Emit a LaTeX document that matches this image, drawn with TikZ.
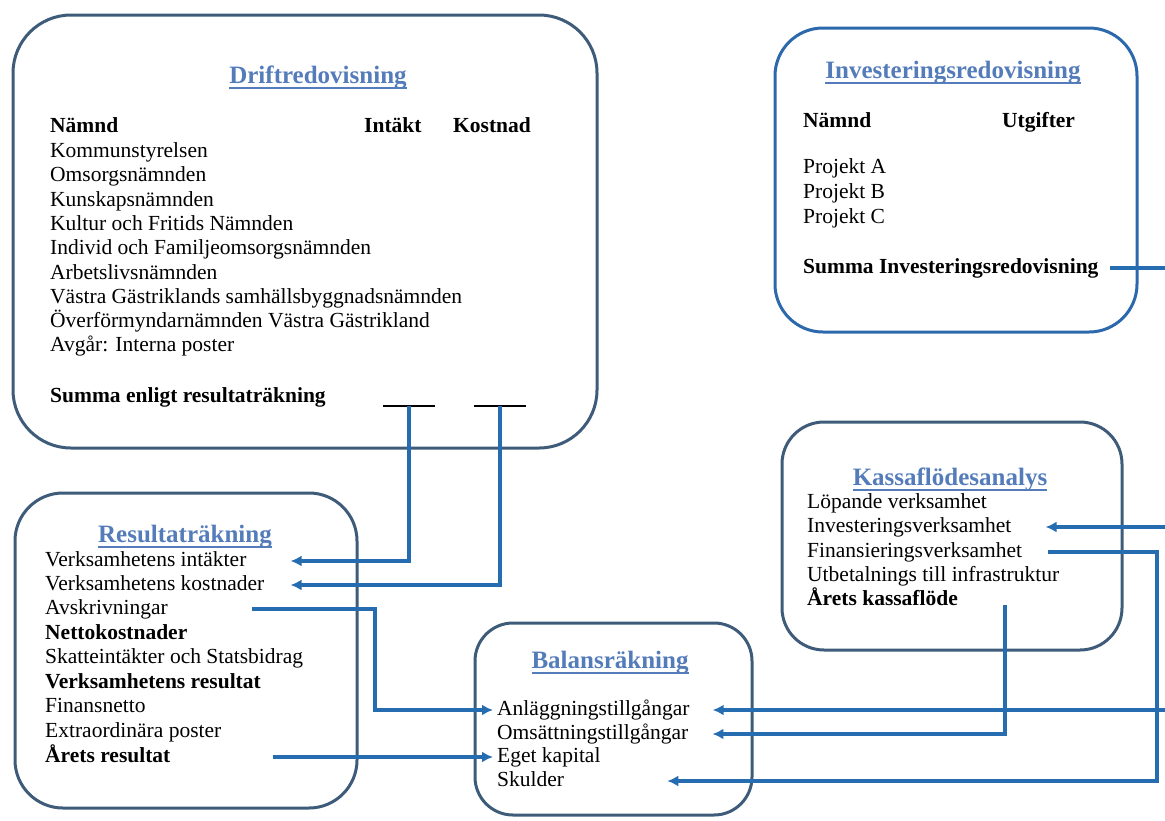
\documentclass[tikz,border=0pt]{standalone}
\usepackage{fontspec}
\setmainfont{Liberation Serif}
\usepackage{xcolor}
\usetikzlibrary{arrows.meta}
\definecolor{boxgray}{RGB}{62,92,122}
\definecolor{boxblue}{RGB}{44,104,172}
\definecolor{lineblue}{RGB}{38,108,176}
\definecolor{titleblue}{RGB}{84,124,186}
\newcommand{\ttlul}[1]{\setbox0\hbox{#1}\rlap{\rule[-5.5pt]{\wd0}{1.8pt}}\box0}

\begin{document}
\begin{tikzpicture}[x=1pt,y=-1pt,
  box/.style={draw=boxgray, line width=3pt},
  txt/.style={anchor=west, inner sep=0pt, text height=16pt, text depth=5pt, font=\fontsize{21.5}{24}\selectfont},
  hd/.style={txt, font=\fontsize{21.5}{24}\selectfont\bfseries},
  ttl/.style={anchor=base, inner sep=0pt, text=titleblue, font=\fontsize{25}{28}\selectfont\bfseries},
  flow/.style={draw=lineblue, line width=3.3pt, -{Latex[length=11pt,width=11pt]}},
  bar/.style={draw=black, line width=2.6pt}]
            \useasboundingbox (0,0) rectangle (1165,820);
            \clip (0,0) rectangle (1165,820);

            \draw[box, rounded corners=58pt] (13,15) rectangle (597,448);
            \draw[box, draw=boxblue, rounded corners=48pt] (775,28) rectangle (1137,332);
            \draw[box, rounded corners=42pt] (782,422) rectangle (1122,650);
            \draw[box, rounded corners=48pt] (15,493) rectangle (357,808);
            \draw[box, rounded corners=38pt] (475,623) rectangle (752,815);

            \draw (318,83) node[ttl]                  (dt) {\ttlul{Driftredovisning}};
            \draw (50,127) node[hd]                   (dnm) {Nämnd};
            \draw (364,127) node[hd]                  (din) {Intäkt};
            \draw (453,127) node[hd]                  (dko) {Kostnad};
            \draw (50,152) node[txt]                  (d1) {Kommunstyrelsen};
            \draw (50,176.3) node[txt]                (d2) {Omsorgsnämnden};
            \draw (50,200.6) node[txt]                (d3) {Kunskapsnämnden};
            \draw (50,224.9) node[txt]                (d4) {Kultur och Fritids Nämnden};
            \draw (50,249.2) node[txt]                (d5) {Individ och Familjeomsorgsnämnden};
            \draw (50,273.5) node[txt]                (d6) {Arbetslivsnämnden};
            \draw (50,297.8) node[txt]                (d7) {Västra Gästriklands samhällsbyggnadsnämnden};
            \draw (50,322.1) node[txt]                (d8) {Överförmyndarnämnden Västra Gästrikland};
            \draw (50,346.4) node[txt]                (d9) {Avgår: Interna poster};
            \draw (50,397) node[hd]                   (dsum) {Summa enligt resultaträkning};
            \coordinate (ib) at (409,406);
            \coordinate (kb) at (500,406);
            \draw[bar] ([xshift=-26pt]ib) -- ([xshift=26pt]ib);
            \draw[bar] ([xshift=-26pt]kb) -- ([xshift=26pt]kb);

            \draw (953,78) node[ttl]                  (it) {\ttlul{Investeringsredovisning}};
            \draw (803,122) node[hd]                  (inm) {Nämnd};
            \draw (1002,122) node[hd]                 (iut) {Utgifter};
            \draw (803,168) node[txt]                 (ia) {Projekt A};
            \draw (803,193) node[txt]                 (ib2) {Projekt B};
            \draw (803,218) node[txt]                 (ic) {Projekt C};
            \draw (803,268) node[hd]                  (isum) {Summa Investeringsredovisning};

            \draw (950,485) node[ttl]                 (kt) {\ttlul{Kassaflödesanalys}};
            \draw (807,503) node[txt]                 (klop) {Löpande verksamhet};
            \draw (807,527) node[txt]                 (kinv) {Investeringsverksamhet};
            \draw (807,552) node[txt]                 (kfin) {Finansieringsverksamhet};
            \draw (807,576) node[txt]                 (kutb) {Utbetalnings till infrastruktur};
            \draw (807,600) node[hd]                  (kar) {Årets kassaflöde};

            \draw (185,542) node[ttl]                 (rt) {\ttlul{Resultaträkning}};
            \draw (45,561) node[txt]                  (rvi) {Verksamhetens intäkter};
            \draw (45,585) node[txt]                  (rvk) {Verksamhetens kostnader};
            \draw (45,609) node[txt]                  (ravs) {Avskrivningar};
            \draw (45,633.5) node[hd]                 (rnet) {Nettokostnader};
            \draw (45,658) node[txt]                  (rsk) {Skatteintäkter och Statsbidrag};
            \draw (45,682.5) node[hd]                 (rvr) {Verksamhetens resultat};
            \draw (45,707) node[txt]                  (rfn) {Finansnetto};
            \draw (45,731.5) node[txt]                (rex) {Extraordinära poster};
            \draw (45,757) node[hd]                   (rar) {Årets resultat};

            \draw (610,668) node[ttl]                 (bt) {\ttlul{Balansräkning}};
            \draw (497,710) node[txt]                 (banl) {Anläggningstillgångar};
            \draw (497,734) node[txt]                 (bom) {Omsättningstillgångar};
            \draw (497,757) node[txt]                 (beg) {Eget kapital};
            \draw (497,781) node[txt]                 (bsk) {Skulder};

            \coordinate (abus) at (375,650);
            \coordinate (fbus) at (1157,650);
            \coordinate (ibus) at (1175,527);
            \draw[flow] (ib) |- ([xshift=44pt]rvi.east);
            \draw[flow] (kb) |- ([xshift=26pt]rvk.east);
            \draw[flow] ([xshift=84pt]ravs.east) -| (abus) |- ([xshift=-4pt]banl.west);
            \draw[flow] ([xshift=102pt]rar.east) -- ([xshift=-4pt]beg.west);
            \draw[flow] ([xshift=11pt]isum.east) -| (ibus) |- ([xshift=34pt]kinv.east);
            \draw[flow] (ibus) |- ([xshift=23pt]banl.east);
            \draw[flow] ([xshift=26pt]kfin.east) -| (fbus) |- ([xshift=103pt]bsk.east);
            \draw[flow] ([xshift=47pt,yshift=-5pt]kar.east) |- ([xshift=24pt]bom.east);

            \end{tikzpicture}
\end{document}
